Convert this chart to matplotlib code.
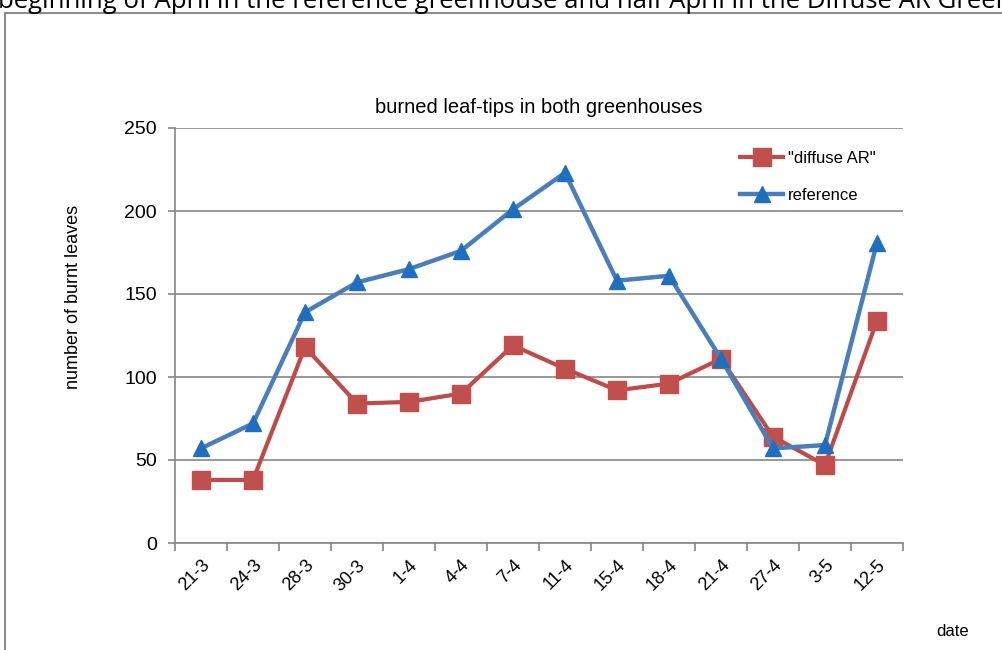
import matplotlib
matplotlib.use("Agg")
import matplotlib.pyplot as plt
from matplotlib.lines import Line2D

dates = ["21-3", "24-3", "28-3", "30-3", "1-4", "4-4", "7-4", "11-4",
         "15-4", "18-4", "21-4", "27-4", "3-5", "12-5"]
diffuse_ar = [38, 38, 118, 84, 85, 90, 119, 105, 92, 96, 111, 64, 47, 134]
reference = [57, 72, 139, 157, 165, 176, 201, 223, 158, 161, 111, 57, 59, 181]

plt.rcParams['font.family'] = ['Liberation Sans', 'DejaVu Sans']

W, H = 1002, 650
fig = plt.figure(figsize=(W / 100, H / 100), dpi=100)

def fx(px):
    return px / W

def fy(py):
    return 1 - py / H

# caption line, cut off at the top as in the source page
fig.text(fx(-2), fy(8), "beginning of April in the reference greenhouse and half April in the Diffuse AR Greenhouse",
         fontsize=18.5, family=['Open Sans', 'DejaVu Sans'], ha='left', va='baseline', color='black')

# outer frame
fig.add_artist(Line2D([fx(5), fx(5)], [fy(13), fy(660)], color='#8c8c8c', lw=1.5, transform=fig.transFigure))
fig.add_artist(Line2D([fx(5), fx(1010)], [fy(13), fy(13)], color='#8c8c8c', lw=1.5, transform=fig.transFigure))

ax = fig.add_axes([fx(175), fy(543), fx(903) - fx(175), fy(128) - fy(543)])

x = list(range(len(dates)))
ax.plot(x, diffuse_ar, color='#BE4B48', lw=3, marker='s', ms=13,
        markerfacecolor='#C0504D', markeredgecolor='#C0504D', label='"diffuse AR"', zorder=3)
ax.plot(x, reference, color='#4A7EBB', lw=3.2, marker='^', ms=12,
        markerfacecolor='#1F6FC0', markeredgecolor='#1F6FC0', label='reference', zorder=4)

ax.set_xlim(-0.5, len(dates) - 0.5)
ax.set_ylim(0, 250)
ax.set_yticks([0, 50, 100, 150, 200, 250])
ax.yaxis.grid(True, color='#868686', lw=1.2)
ax.set_axisbelow(True)

ax.set_xticks([i - 0.5 for i in range(len(dates) + 1)], minor=False)
ax.set_xticklabels([])
ax.set_xticks(x, minor=True)
ax.set_xticklabels(dates, minor=True, rotation=45, ha='right', va='top', fontsize=13,
                   rotation_mode='anchor')
for lab in ax.get_xticklabels(minor=True):
    lab.set_x(lab.get_position()[0])
ax.tick_params(axis='x', which='major', length=6, color='#868686', width=1.2, direction='out')
ax.tick_params(axis='x', which='minor', length=0, pad=10)
ax.tick_params(axis='y', length=5, color='#868686', width=1.2, labelsize=14, pad=8)

for s in ['top', 'right']:
    ax.spines[s].set_visible(False)
for s in ['left', 'bottom']:
    ax.spines[s].set_color('#868686')
    ax.spines[s].set_linewidth(1.2)

ax.set_title("burned leaf-tips in both greenhouses", fontsize=14.5, pad=11)
fig.text(fx(73), fy(297), "number of burnt leaves", rotation=90, ha='center', va='center', fontsize=13)
fig.text(fx(953), fy(631), "date", ha='center', va='center', fontsize=12)

ax.legend(loc='upper left', bbox_to_anchor=((725 - 175) / (903 - 175), 0.98),
          frameon=False, fontsize=12, handlelength=2.6, labelspacing=1.3, handletextpad=0.3)

fig.savefig("out.png", dpi=100)
